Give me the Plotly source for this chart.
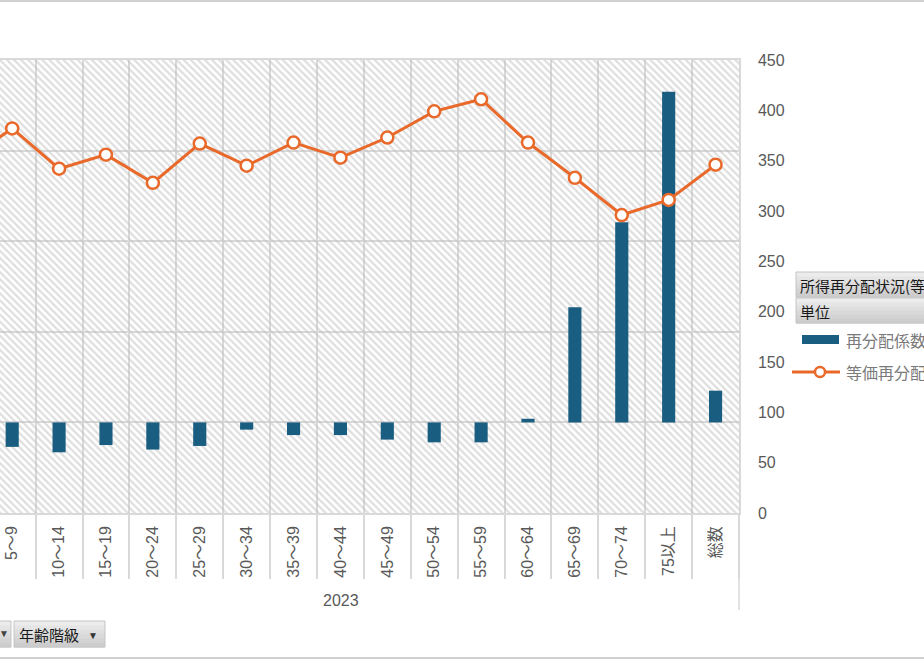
import plotly.graph_objects as go

# ---- data ----
categories = ["0～4", "5～9", "10～14", "15～19", "20～24", "25～29", "30～34", "35～39",
              "40～44", "45～49", "50～54", "55～59", "60～64", "65～69", "70～74", "75以上", "総数"]
redistribution_coef = [-20, -27, -33, -25, -30, -26, -8, -14, -14, -19, -22, -22, 4, 127, 221, 365, 35]
equiv_income = [350, 382, 342, 356, 328, 367, 345, 368, 353, 373, 399, 411, 368, 333, 296, 311, 346]
year_label = "2023"
series_names = ["再分配係数(%)", "等価再分配所得(万円)"]
legend_title = "所得再分配状況(等価所得)"
legend_sub = "単位"
field_button = "年齢階級"

# ---- style ----
W, H = 924, 660
PL, PR, PT, PB = 0, 739, 60, 513
BLUE = "#195d80"
ORANGE = "#e8692a"
GRID = "#d9d9d9"
TXT = "#595959"
FONT = "Liberation Sans, Noto Sans CJK JP, sans-serif"
Y1_RANGE = [-100, 400]
Y2_RANGE = [0, 450]

def px2x(px):
    return (px - PL) / (PR - PL)

def py2y(py):
    return (PB - py) / (PB - PT)

fig = go.Figure()

# hatched plot-area background
fig.add_trace(go.Bar(
    x=categories, y=[Y1_RANGE[1] - Y1_RANGE[0]] * len(categories), base=Y1_RANGE[0],
    width=1, marker=dict(color="rgba(0,0,0,0)", line=dict(width=0),
                         pattern=dict(shape="\\", fgcolor="#bdbdbd", bgcolor="rgba(0,0,0,0)",
                                      size=5, solidity=0.45)),
    hoverinfo="skip", showlegend=False, yaxis="y"))

fig.add_trace(go.Bar(
    x=categories, y=redistribution_coef, name=series_names[0], width=0.28,
    marker=dict(color=BLUE, line=dict(width=0)), yaxis="y", showlegend=False))

fig.add_trace(go.Scatter(
    x=categories, y=equiv_income, name=series_names[1], mode="lines+markers",
    line=dict(color=ORANGE, width=3),
    marker=dict(symbol="circle", size=12, color="white", line=dict(color=ORANGE, width=2.5)),
    yaxis="y2", showlegend=False))

shapes = []
annotations = []

# right border extension through the label area
shapes.append(dict(type="line", xref="paper", yref="paper", x0=1, x1=1,
                   y0=py2y(PB), y1=py2y(610), line=dict(color=GRID, width=1.5)))
# chart-area border lines (top / bottom)
shapes.append(dict(type="line", xref="paper", yref="paper", x0=px2x(0), x1=px2x(W),
                   y0=py2y(1), y1=py2y(1), line=dict(color="#d0d0d0", width=2)))
shapes.append(dict(type="line", xref="paper", yref="paper", x0=px2x(0), x1=px2x(W),
                   y0=py2y(658), y1=py2y(658), line=dict(color="#d0d0d0", width=2)))

# year label
annotations.append(dict(text=year_label, xref="paper", yref="paper", x=px2x(341), y=py2y(600),
                        xanchor="center", yanchor="middle",
                        showarrow=False, font=dict(size=16, color=TXT, family=FONT)))

# legend header boxes (gradient approximated by bands)
def grad_box(x0, x1, y0, y1, top="#ececec", bottom="#cdcdcd", n=6):
    def mix(a, b, t):
        a = [int(a[i:i + 2], 16) for i in (1, 3, 5)]
        b = [int(b[i:i + 2], 16) for i in (1, 3, 5)]
        return "#%02x%02x%02x" % tuple(int(a[k] + (b[k] - a[k]) * t) for k in range(3))
    h = (y1 - y0) / n
    for i in range(n):
        shapes.append(dict(type="rect", xref="paper", yref="paper",
                           x0=px2x(x0), x1=px2x(x1), y0=py2y(y0 + i * h), y1=py2y(y0 + (i + 1) * h + 0.5),
                           fillcolor=mix(top, bottom, i / (n - 1)), line=dict(width=0), layer="above"))
    shapes.append(dict(type="rect", xref="paper", yref="paper",
                       x0=px2x(x0), x1=px2x(x1), y0=py2y(y0), y1=py2y(y1),
                       fillcolor="rgba(0,0,0,0)", line=dict(color="#c4c4c4", width=1), layer="above"))

grad_box(796, 940, 272, 297)
grad_box(796, 940, 298, 323)
annotations.append(dict(text=legend_title, xref="paper", yref="paper", x=px2x(798), y=py2y(285),
                        xanchor="left", yanchor="middle", showarrow=False,
                        font=dict(size=15, color="#1a1a1a", family="Noto Sans CJK JP")))
annotations.append(dict(text=legend_sub, xref="paper", yref="paper", x=px2x(798), y=py2y(311),
                        xanchor="left", yanchor="middle", showarrow=False,
                        font=dict(size=15, color="#1a1a1a", family="Noto Sans CJK JP")))

# legend items
shapes.append(dict(type="rect", xref="paper", yref="paper", x0=px2x(802), x1=px2x(839),
                   y0=py2y(335), y1=py2y(344), fillcolor=BLUE, line=dict(width=0)))
annotations.append(dict(text=series_names[0], xref="paper", yref="paper", x=px2x(844), y=py2y(340),
                        xanchor="left", yanchor="middle", showarrow=False,
                        font=dict(size=16, color="#7a7a7a", family="Noto Sans CJK JP")))
shapes.append(dict(type="line", xref="paper", yref="paper", x0=px2x(792), x1=px2x(840),
                   y0=py2y(372), y1=py2y(372), line=dict(color=ORANGE, width=3)))
shapes.append(dict(type="circle", xref="paper", yref="paper", x0=px2x(815), x1=px2x(825),
                   y0=py2y(367), y1=py2y(377), fillcolor="white", line=dict(color=ORANGE, width=2.5)))
annotations.append(dict(text=series_names[1], xref="paper", yref="paper", x=px2x(844), y=py2y(372),
                        xanchor="left", yanchor="middle", showarrow=False,
                        font=dict(size=16, color="#7a7a7a", family="Noto Sans CJK JP")))

# field buttons bottom-left
grad_box(-20, 11, 621, 647)
grad_box(14, 105, 621, 647)
annotations.append(dict(text="▼", xref="paper", yref="paper", x=px2x(4), y=py2y(633),
                        xanchor="center", yanchor="middle", showarrow=False,
                        font=dict(size=10, color="#444444")))
annotations.append(dict(text=field_button, xref="paper", yref="paper", x=px2x(17), y=py2y(634),
                        xanchor="left", yanchor="middle", showarrow=False,
                        font=dict(size=15, color="#1a1a1a", family="Noto Sans CJK JP")))
annotations.append(dict(text="▼", xref="paper", yref="paper", x=px2x(93), y=py2y(635),
                        xanchor="center", yanchor="middle", showarrow=False,
                        font=dict(size=10, color="#333333")))

fig.update_layout(
    width=W, height=H, autosize=False,
    margin=dict(l=PL, r=W - PR, t=PT, b=H - PB, pad=0),
    paper_bgcolor="white", plot_bgcolor="white",
    barmode="overlay", showlegend=False,
    font=dict(family=FONT, color=TXT, size=16),
    xaxis=dict(type="category", categoryorder="array", categoryarray=categories,
               range=[0.74, 16.5], tickson="boundaries", showgrid=True, gridcolor=GRID, gridwidth=1.5,
               ticks="outside", ticklen=64, tickcolor=GRID, tickwidth=1.5,
               tickangle=-90, ticklabelstandoff=5,
               tickfont=dict(size=16, color=TXT, family=FONT),
               showline=True, mirror=True, linecolor=GRID, linewidth=1.5, zeroline=False),
    yaxis=dict(range=Y1_RANGE, dtick=100, showgrid=True, gridcolor=GRID, gridwidth=1.5,
               zeroline=True, zerolinecolor=GRID, zerolinewidth=1.5, showticklabels=False,
               showline=False),
    yaxis2=dict(range=Y2_RANGE, dtick=50, overlaying="y", side="right", showgrid=False,
                zeroline=False, showline=True, linecolor=GRID, linewidth=1.5,
                ticks="", ticklabelstandoff=14,
                tickfont=dict(size=16, color=TXT, family=FONT)),
    shapes=shapes, annotations=annotations,
)

fig.write_html("out.html")
